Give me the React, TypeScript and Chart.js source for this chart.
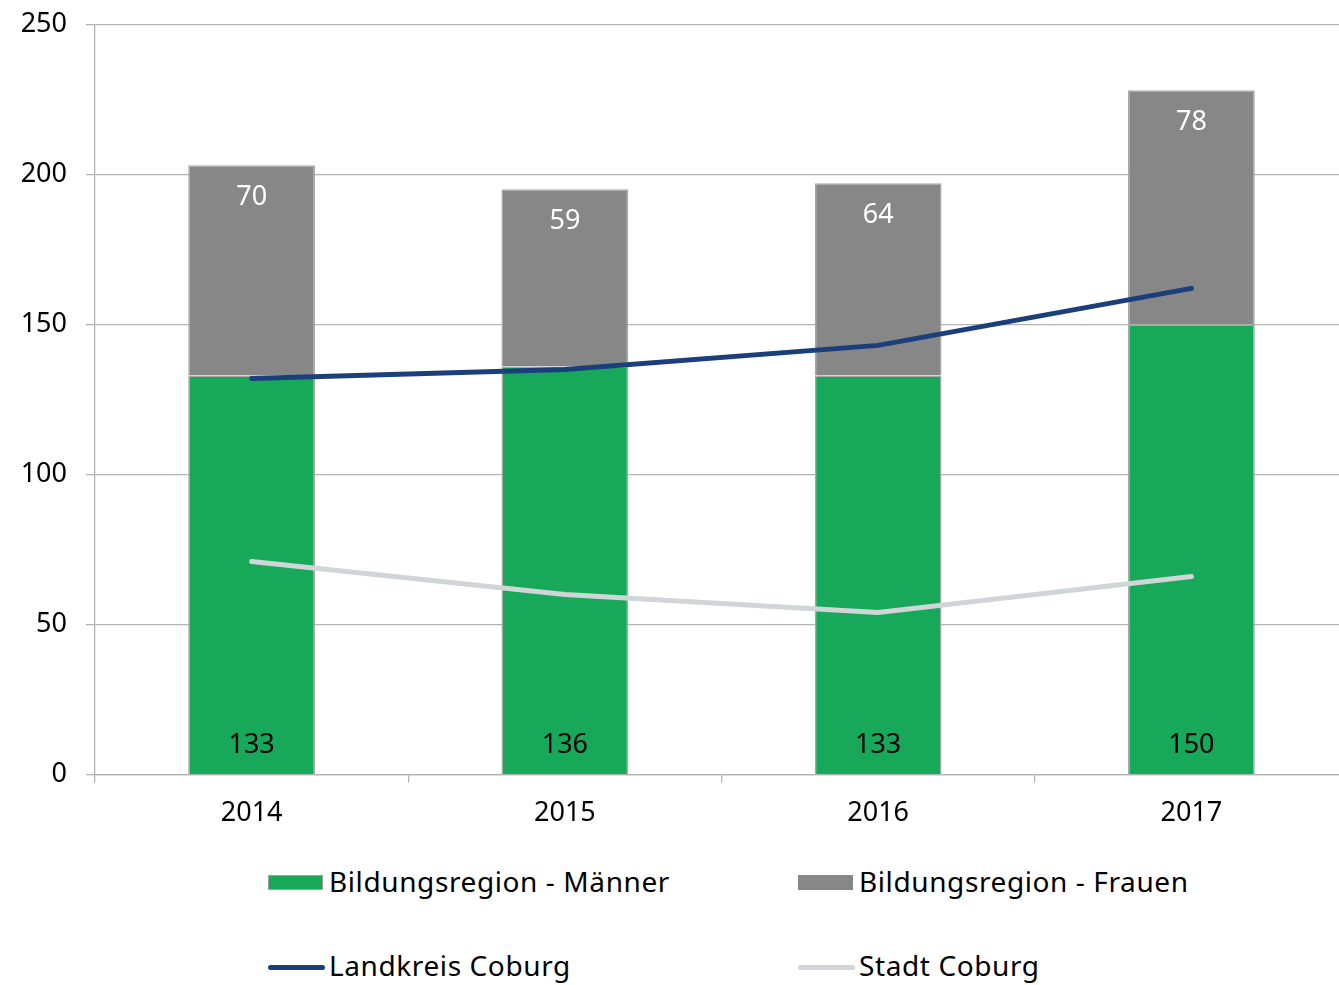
import React, { useEffect, useRef } from "react";
import { Chart, registerables } from "chart.js";

Chart.register(...registerables);

const years = ["2014", "2015", "2016", "2017"];
const maenner = [133, 136, 133, 150];
const frauen = [70, 59, 64, 78];
const landkreis = [132, 135, 143, 162];
const stadt = [71, 60, 54, 66];
const yTicks = [0, 50, 100, 150, 200, 250];

const FONT = "'Noto Sans', sans-serif";
const GREEN = "#17a85a";
const GRAY = "#878787";
const NAVY = "#1b3f7b";
const LIGHT = "#d0d5d8";
const GRID = "#b4b4b4";

const labelPlugin = {
  id: "barLabels",
  afterDatasetsDraw(chart: any) {
    const ctx = chart.ctx;
    ctx.save();
    ctx.font = `27px ${FONT}`;
    ctx.textAlign = "center";
    ctx.textBaseline = "middle";
    chart.data.datasets.forEach((ds: any, i: number) => {
      if (ds.type !== "bar") return;
      const meta = chart.getDatasetMeta(i);
      meta.data.forEach((el: any, j: number) => {
        const v = ds.data[j];
        if (ds.label.endsWith("Männer")) {
          ctx.fillStyle = "#000";
          ctx.fillText(String(v), el.x, el.base - 29);
        } else {
          ctx.fillStyle = "#fff";
          ctx.fillText(String(v), el.x, el.y + 32);
        }
      });
    });
    ctx.restore();
  },
};

export default function App() {
  const ref = useRef<HTMLCanvasElement | null>(null);
  useEffect(() => {
    if (!ref.current) return;
    const chart = new Chart(ref.current, {
      type: "bar",
      data: {
        labels: years,
        datasets: [
          {
            type: "line",
            label: "Landkreis Coburg",
            data: landkreis,
            borderColor: NAVY,
            backgroundColor: NAVY,
            borderWidth: 5,
            pointRadius: 0,
            tension: 0,
            borderCapStyle: "round",
            stack: "l1",
            order: 0,
          } as any,
          {
            type: "line",
            label: "Stadt Coburg",
            data: stadt,
            borderColor: LIGHT,
            backgroundColor: LIGHT,
            borderWidth: 5,
            pointRadius: 0,
            tension: 0,
            borderCapStyle: "round",
            stack: "l2",
            order: 0,
          } as any,
          {
            type: "bar",
            label: "Bildungsregion - Männer",
            data: maenner,
            backgroundColor: GREEN,
            borderColor: "#a8a8a8",
            borderWidth: 1.5,
            stack: "s",
            order: 1,
          } as any,
          {
            type: "bar",
            label: "Bildungsregion - Frauen",
            data: frauen,
            backgroundColor: GRAY,
            borderColor: "#a8a8a8",
            borderWidth: 1.5,
            stack: "s",
            order: 1,
          } as any,
        ],
      },
      options: {
        animation: false,
        responsive: false,
        maintainAspectRatio: false,
        layout: { padding: 0 },
        datasets: {
          bar: { categoryPercentage: 1, barPercentage: 0.405 },
        },
        plugins: {
          legend: { display: false },
          tooltip: { enabled: false },
        },
        scales: {
          x: {
            stacked: true,
            grid: {
              offset: true,
              drawOnChartArea: false,
              drawTicks: true,
              tickLength: 8,
              color: GRID,
              lineWidth: 1.3,
            },
            border: { color: GRID, width: 1.3 },
            ticks: {
              color: "#000",
              font: { family: FONT, size: 27 },
              padding: 15,
            },
          },
          y: {
            stacked: true,
            min: 0,
            max: 250,
            afterBuildTicks: (scale: any) => {
              scale.ticks = yTicks.map((v) => ({ value: v }));
            },
            afterFit: (scale: any) => {
              scale.width = 95;
            },
            grid: {
              color: GRID,
              lineWidth: 1.3,
              tickLength: 9,
            },
            border: { color: GRID, width: 1.3 },
            ticks: {
              color: "#000",
              font: { family: FONT, size: 27 },
              padding: 19,
            },
          },
        },
      },
      plugins: [labelPlugin],
    });
    return () => chart.destroy();
  }, []);

  const legendText: React.CSSProperties = {
    fontFamily: FONT,
    fontSize: 28,
    letterSpacing: "0.6px",
    color: "#000",
    position: "absolute",
    whiteSpace: "nowrap",
    lineHeight: "34px",
  };
  const items = [
    { label: "Bildungsregion - Männer", kind: "box", color: GREEN, x: 268, y: 883 },
    { label: "Bildungsregion - Frauen", kind: "box", color: GRAY, x: 798, y: 883 },
    { label: "Landkreis Coburg", kind: "line", color: NAVY, x: 268, y: 967 },
    { label: "Stadt Coburg", kind: "line", color: LIGHT, x: 798, y: 967 },
  ];

  return (
    <div style={{ position: "absolute", left: 0, top: 0, width: 1339, height: 985, background: "#fff", overflow: "hidden" }}>
      <canvas ref={ref} width={1348} height={856} style={{ position: "absolute", left: 0, top: -11, width: 1348, height: 856 }} />
      {items.map((it) => (
        <React.Fragment key={it.label}>
          {it.kind === "box" ? (
            <div
              style={{
                position: "absolute",
                left: it.x,
                top: it.y - 8,
                width: 55,
                height: 15,
                background: it.color,
                border: it.color === GREEN ? "1.5px solid #a0a0a0" : "none",
                boxSizing: "border-box",
              }}
            />
          ) : (
            <div
              style={{
                position: "absolute",
                left: it.x,
                top: it.y - 2,
                width: 57,
                height: 5,
                borderRadius: 2.5,
                background: it.color,
              }}
            />
          )}
          <div style={{ ...legendText, left: it.x + 61, top: it.y - 19 }}>{it.label}</div>
        </React.Fragment>
      ))}
    </div>
  );
}
